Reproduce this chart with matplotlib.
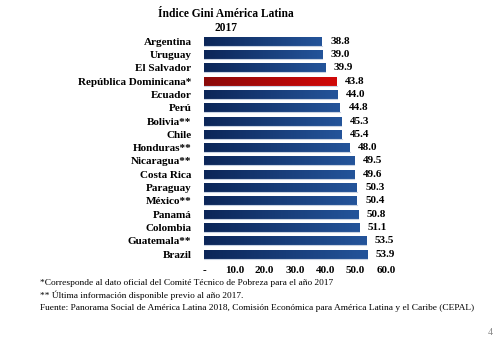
import matplotlib
matplotlib.use('Agg')
import matplotlib.pyplot as plt
import numpy as np
from matplotlib.colors import LinearSegmentedColormap

paises = ['Argentina', 'Uruguay', 'El Salvador', 'República Dominicana*', 'Ecuador',
          'Perú', 'Bolivia**', 'Chile', 'Honduras**', 'Nicaragua**', 'Costa Rica',
          'Paraguay', 'México**', 'Panamá', 'Colombia', 'Guatemala**', 'Brazil']
gini = [38.8, 39.0, 39.9, 43.8, 44.0, 44.8, 45.3, 45.4, 48.0, 49.5, 49.6,
        50.3, 50.4, 50.8, 51.1, 53.5, 53.9]
ticks = [0, 10, 20, 30, 40, 50, 60]
tick_labels = ['-', '10.0', '20.0', '30.0', '40.0', '50.0', '60.0']
notas = ['*Corresponde al dato oficial del Comité Técnico de Pobreza para el año 2017',
         '** Última información disponible previo al año 2017.',
         'Fuente: Panorama Social de América Latina 2018, Comisión Económica para América Latina y el Caribe (CEPAL)']

plt.rcParams['font.family'] = ['Liberation Serif', 'DejaVu Serif']

fig = plt.figure(figsize=(5, 3.39), dpi=100)
ax = fig.add_axes([0.408, 0.231, 0.364, 0.667])

azul = LinearSegmentedColormap.from_list('azul', ['#0c2658', '#24549a'])
rojo = LinearSegmentedColormap.from_list('rojo', ['#8a0a0a', '#d00808'])
grad = np.linspace(0, 1, 64).reshape(1, -1)

y = np.arange(len(paises))
bars = ax.barh(y, gini, height=0.68, color='none', edgecolor='none')
for i, b in enumerate(bars):
    cm = rojo if paises[i].startswith('República') else azul
    x0, y0, w, h = b.get_x(), b.get_y(), b.get_width(), b.get_height()
    im = ax.imshow(grad, cmap=cm, aspect='auto', extent=[x0, x0 + w, y0, y0 + h],
                   interpolation='bicubic', zorder=2)
    im.set_clip_path(b)
    ax.plot([x0, x0 + w], [y0 + h, y0 + h], color='#c9d3e3', lw=0.8, zorder=3)
    ax.text(w + 2.8, y[i], f'{gini[i]:.1f}', va='center', ha='left',
            fontsize=8, fontweight='bold')

ax.set_xlim(0, 60)
ax.set_ylim(len(paises) - 0.5, -0.5)
ax.set_yticks(y)
ax.set_yticklabels(paises, fontsize=8, fontweight='bold')
ax.set_xticks(ticks)
ax.set_xticklabels(tick_labels, fontsize=8, fontweight='bold')
ax.tick_params(length=0, pad=4)
ax.tick_params(axis='y', pad=9)
for s in ax.spines.values():
    s.set_visible(False)

fig.text(0.452, 0.937, 'Índice Gini América Latina\n2017', ha='center', va='center',
         fontsize=8.3, fontweight='bold', linespacing=1.2)

for k, t in enumerate(notas):
    fig.text(0.08, 0.164 - k * 0.036, t, fontsize=6.75, ha='left', va='center')

fig.text(0.986, 0.006, '4', fontsize=7, color='#888888', ha='right', va='bottom')

fig.savefig('out.png', dpi=100)
